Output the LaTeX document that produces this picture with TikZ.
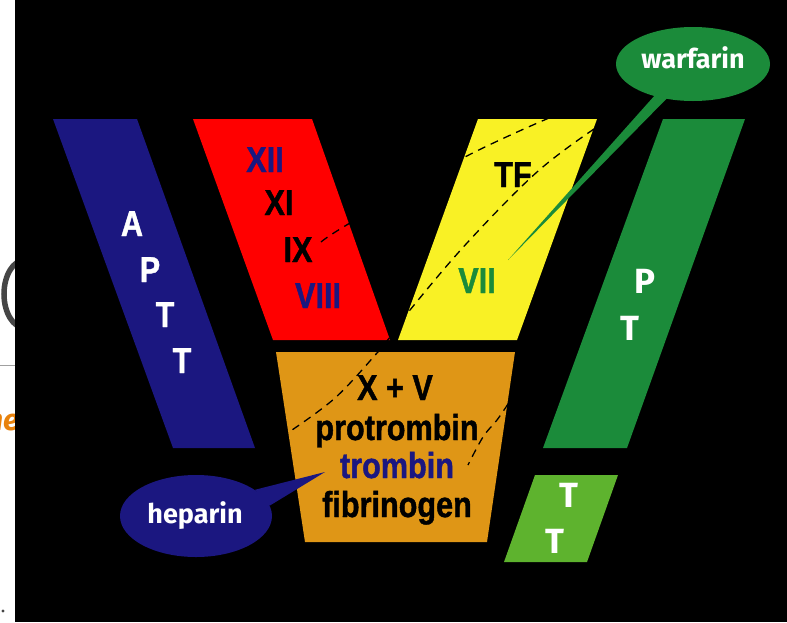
\documentclass[tikz,border=0pt]{standalone}
\usepackage{fontspec}
\newfontfamily\condf[FakeStretch=0.85, FakeBold=1.2]{Liberation Sans Bold}
\newfontfamily\labf{Fira Sans}
\usetikzlibrary{shapes.geometric}
\definecolor{navy}{HTML}{1B1780}
\definecolor{barred}{HTML}{FF0000}
\definecolor{baryellow}{HTML}{F9F125}
\definecolor{barorange}{HTML}{DF9616}
\definecolor{bargreen}{HTML}{1B8B3A}
\definecolor{barlight}{HTML}{5EB32E}
\definecolor{glyphgrey}{HTML}{454545}
\definecolor{rulegrey}{HTML}{A0A0A0}
\definecolor{slideorange}{HTML}{E8820C}
\tikzset{
  ctext/.style={inner sep=0pt, anchor=base, font=\condf\fontsize{36}{36}\selectfont},
  ftext/.style={inner sep=0pt, anchor=base, font=\labf\bfseries\fontsize{35}{35}\selectfont, text=white},
  bubble/.style={ellipse, inner sep=0pt, minimum width=#1},
  btext/.style={inner sep=0pt, anchor=base, font=\labf\bfseries\fontsize{27}{27}\selectfont, text=white},
  pathline/.style={black, line width=1.3pt, dash pattern=on 8pt off 6pt}
}
\begin{document}
\begin{tikzpicture}[x=1pt,y=-1pt]
\useasboundingbox (0,0) rectangle (787,622);
% slide fragment on the left
\fill[white] (0,0) rectangle (15,622);
\begin{scope}
  \clip (0,0) rectangle (15,622);
  \draw[line width=5.5pt, glyphgrey] (25,294) ellipse [x radius=21, y radius=34];
  \draw[line width=1pt, rulegrey] (0,365) -- (15,365);
  \node[inner sep=0pt, anchor=base west, text=slideorange, font=\labf\bfseries\itshape\fontsize{30}{30}\selectfont] (frag) at (-14,430) {ne};
  \fill[glyphgrey] (3,611) circle (1.6);
\end{scope}
\fill[black] (15,0) rectangle (787,622);
% bars
\fill[navy] (53,119) -- (137,119) -- (255,448) -- (173,448) -- cycle;
\fill[barred] (193,119) -- (312,119) -- (390,340) -- (273,340) -- cycle;
\fill[baryellow] (478,119) -- (597,119) -- (517,340) -- (398,340) -- cycle;
\fill[barorange] (276,352) -- (515,352) -- (487,542) -- (305,542) -- cycle;
\fill[bargreen] (663,119) -- (745,119) -- (627,448) -- (543,448) -- cycle;
\fill[barlight] (535,475) -- (618,475) -- (587,562) -- (504,562) -- cycle;
% dashed pathway boundaries
\draw[pathline] plot[smooth, tension=0.6] coordinates {(594,129) (537,172) (467,243) (410,310) (390,337) (377,353) (335,398) (289,432)};
\draw[pathline] plot[smooth, tension=0.6] coordinates {(321,242) (350,223) (463,158) (549,118)};
\draw[pathline] plot[smooth, tension=0.6] coordinates {(508,404) (497,420) (483,437) (468,465)};
% APTT
\node[ctext, text=white] (a1) at (132,236) {A};
\node[ctext, text=white] (a2) at (150,282) {P};
\node[ctext, text=white] (a3) at (165,327) {T};
\node[ctext, text=white] (a4) at (182,373) {T};
% intrinsic factors
\node[ctext, text=navy] (f12) at (265,172) {XII};
\node[ctext, text=black] (f11) at (279,215) {XI};
\node[ctext, text=black] (f9) at (298,262) {IX};
\node[ctext, text=navy] (f8) at (318,308) {VIII};
% extrinsic
\node[ctext, text=black] (tf) at (513,187) {TF};
\node[ctext, text=bargreen] (f7) at (477,293) {VII};
% common
\node[ctext, text=black] (xv) at (395,400) {X + V};
\node[ctext, text=black] (pro) at (397,440) {protrombin};
\node[ctext, text=navy] (tro) at (397,478) {trombin};
\node[ctext, text=black] (fib) at (397,517) {fibrinogen};
% PT and TT
\node[ftext] (p1) at (645,293) {P};
\node[ftext] (p2) at (630,340) {T};
\node[ftext] (t1) at (569,507) {T};
\node[ftext] (t2) at (555,553) {T};
% callouts
\node[bubble=154pt, minimum height=74pt, fill=bargreen] (warf) at (693,64) {};
\coordinate (warfL) at (664,85);
\coordinate (warfR) at (680,85);
\coordinate (warftip) at (508,260);
\fill[bargreen] (warfL) -- (warftip) -- (warfR) -- cycle;
\node[btext] (warft) at (693,68) {warfarin};
\node[bubble=152pt, minimum height=82pt, fill=navy] (hep) at (196,516) {};
\coordinate (heptip) at (325,472);
\fill[navy] (hep.8) -- (heptip) -- (hep.24) -- cycle;
\node[btext] (hept) at (195,523) {heparin};
\end{tikzpicture}
\end{document}
